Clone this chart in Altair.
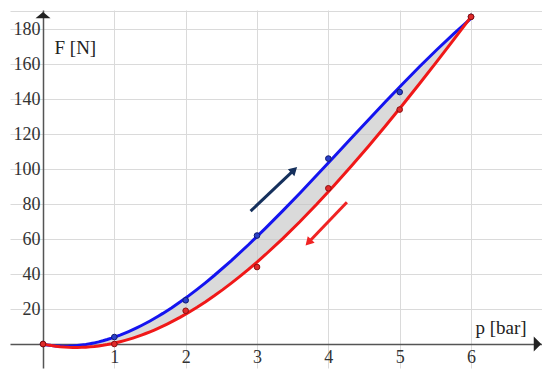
import altair as alt
import pandas as pd

# measured points
p = [0, 1, 2, 3, 4, 5, 6]
F_up = [0, 4, 25, 62, 106, 144, 187]
F_down = [0, 0, 19, 44, 89, 134, 187]

x_ticks = [1, 2, 3, 4, 5, 6]
y_ticks = [20, 40, 60, 80, 100, 120, 140, 160, 180]

x_domain = [-0.463, 6.995]
y_domain = [-13.7, 190.9]

# direction arrows (tail, head) in data units
arrow_up_x = [2.91, 3.52]
arrow_up_y = [76, 99.5]
arrow_down_x = [4.26, 3.72]
arrow_down_y = [81, 58]

df = pd.DataFrame({
    "p": p + p,
    "F": F_up + F_down,
    "series": ["up"] * len(p) + ["down"] * len(p),
})

xs = alt.Scale(domain=x_domain, nice=False, zero=False)
ys = alt.Scale(domain=y_domain, nice=False, zero=False)

FONT = "Liberation Serif"

x_axis = alt.Axis(
    values=x_ticks, format="d", offset=-24, ticks=False, grid=True, gridColor="#dadada", gridWidth=1,
    domainColor="#555555", domainWidth=1.5, labelOverlap=False, tickCount=30,
    labelFont=FONT, labelFontSize=18, labelColor="#333333", labelPadding=4,
    title="p [bar]", titleFont=FONT, titleFontSize=19, titleFontWeight="normal",
    titleColor="#222222", titleAngle=0, titleAlign="left", titleBaseline="alphabetic",
    titleX=465, titleY=-11,
)
y_axis = alt.Axis(
    values=y_ticks + [y_domain[1] - 0.3], offset=-33, ticks=False, grid=True,
    gridColor="#dadada", gridWidth=1, labelOverlap=False, tickCount=30,
    domainColor="#555555", domainWidth=1.5,
    labelFont=FONT, labelFontSize=18, labelColor="#333333", labelPadding=3,
    labelExpr="datum.value > 185 ? '' : datum.label",
    title="F [N]", titleFont=FONT, titleFontSize=19, titleFontWeight="normal",
    titleColor="#222222", titleAngle=0, titleAlign="left", titleBaseline="alphabetic",
    titleX=11, titleY=43,
)

# shaded area between the two fitted curves
area = alt.Chart(df).transform_regression(
    "p", "F", groupby=["series"], method="poly", order=3, params=True
).transform_calculate(
    s="datum.keys[0]", xs="sequence(0, 6.0001, 0.02)"
).transform_flatten(["xs"]).transform_calculate(
    fit="datum.coef[0] + datum.coef[1]*datum.xs + datum.coef[2]*datum.xs*datum.xs + datum.coef[3]*datum.xs*datum.xs*datum.xs"
).transform_pivot(
    "s", value="fit", groupby=["xs"]
).mark_area(color="#c4c4c4", opacity=0.62).encode(
    x=alt.X("xs:Q", scale=xs, axis=x_axis),
    y=alt.Y("up:Q", scale=ys, axis=y_axis),
    y2="down:Q",
)

def fit_line(name, color):
    return alt.Chart(df).transform_filter(
        alt.datum.series == name
    ).transform_regression(
        "p", "F", method="poly", order=3
    ).mark_line(color=color, strokeWidth=3).encode(
        x=alt.X("p:Q", scale=xs), y=alt.Y("F:Q", scale=ys)
    )

def pts(name, fill, stroke):
    return alt.Chart(df).transform_filter(
        alt.datum.series == name
    ).mark_point(filled=True, size=32, fill=fill, stroke=stroke, strokeWidth=1, opacity=1).encode(
        x=alt.X("p:Q", scale=xs), y=alt.Y("F:Q", scale=ys)
    )

def arrow(xv, yv, color, angle):
    d = pd.DataFrame({"x": [xv[0]], "y": [yv[0]], "x2": [xv[1]], "y2": [yv[1]]})
    shaft = alt.Chart(d).mark_rule(color=color, strokeWidth=3).encode(
        x=alt.X("x:Q", scale=xs), y=alt.Y("y:Q", scale=ys), x2="x2:Q", y2="y2:Q"
    )
    head = alt.Chart(d).mark_point(
        shape="triangle-up", filled=True, size=90, color=color, opacity=1, angle=angle
    ).encode(x=alt.X("x2:Q", scale=xs), y=alt.Y("y2:Q", scale=ys))
    return shaft + head

ax_ends = pd.DataFrame({"x": [0, x_domain[1]], "y": [y_domain[1], 0], "k": ["up", "right"]})
up_head = alt.Chart(ax_ends).transform_filter(alt.datum.k == "up").mark_point(
    shape="M-1,1.1 L0,0.25 L1,1.1 Z", filled=True, size=225, color="#222222", opacity=1
).encode(x=alt.X("x:Q", scale=xs), y=alt.Y("y:Q", scale=ys))
right_head = alt.Chart(ax_ends).transform_filter(alt.datum.k == "right").mark_point(
    shape="M-1.1,-1 L-0.1,0 L-1.1,1 Z", filled=True, size=225, color="#222222", opacity=1
).encode(x=alt.X("x:Q", scale=xs), y=alt.Y("y:Q", scale=ys))

chart = alt.layer(
    area,
    fit_line("up", "#1414f0"),
    pts("up", "#2a40c8", "#101a70"),
    fit_line("down", "#f01818"),
    pts("down", "#e02a2a", "#8a1010"),
    arrow(arrow_up_x, arrow_up_y, "#15305c", 46.7),
    arrow(arrow_down_x, arrow_down_y, "#f02424", 223.4),
    up_head,
    right_head,
).properties(
    width=532, height=358,
    autosize=alt.AutoSizeParams(type="none"),
    padding={"left": 2, "top": 2, "right": 0, "bottom": 2},
).configure_view(stroke=None)

chart.save("out.html", embed_options={"renderer": "svg", "actions": False})
